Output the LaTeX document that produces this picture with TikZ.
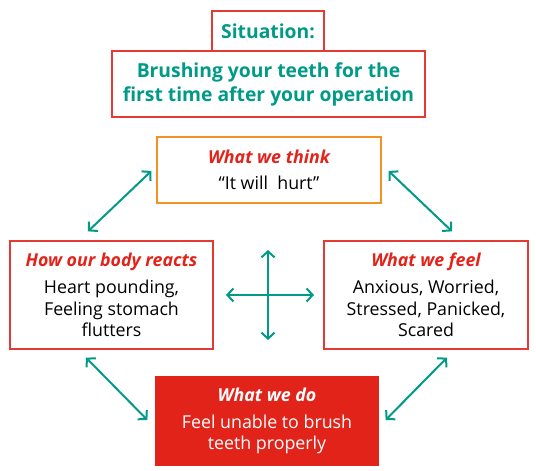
\documentclass[tikz,border=0pt]{standalone}
\usepackage{fontspec}
\setmainfont{Open Sans}
\usetikzlibrary{arrows.meta}
\usetikzlibrary{calc}
\definecolor{boxred}{HTML}{E53A34}
\definecolor{titlered}{HTML}{E2231A}
\definecolor{thinkorange}{HTML}{F39325}
\definecolor{arrowteal}{HTML}{009A87}

\begin{document}
\begin{tikzpicture}
	[x=1pt,y=1pt,
	box/.style={draw=boxred, line width=1.3pt, inner sep=0pt, align=center, font=\fontsize{17.8}{21.5}\selectfont},
	sitbox/.style={box, text=arrowteal, font=\fontsize{19.3}{24}\selectfont\bfseries},
	link/.style={arrowteal, line width=2pt, {Straight Barb[length=6pt,width=13pt]}-{Straight Barb[length=6pt,width=13pt]}}];

	\useasboundingbox (0,0) rectangle (536,471);

	%Situation
	\node[sitbox, minimum width=112, minimum height=40] (sit) at (268,440) {Situation:};
	\node[sitbox, minimum width=313, minimum height=66] (brush) at (268.5,387) {Brushing your teeth for the\\first time after your operation};

	%Four boxes
	\node[box, draw=thinkorange, minimum width=224, minimum height=66] (think) at (269,301) {{\bfseries\itshape\color{titlered}What we think}\\[5pt]“It will~ hurt”};
	\node[box, minimum width=203, minimum height=108] (body) at (111.5,176) {{\bfseries\itshape\color{titlered}How our body reacts}\\[6pt]Heart pounding,\\Feeling stomach\\flutters};
	\node[box, minimum width=204, minimum height=108] (feel) at (426,176) {{\bfseries\itshape\color{titlered}What we feel}\\[6pt]Anxious, Worried,\\Stressed, Panicked,\\Scared};
	\node[box, draw=titlered, fill=titlered, text=white, minimum width=222, minimum height=88] (do) at (267,50) {{\bfseries\itshape What we do}\\[5pt]Feel unable to brush\\teeth properly};

	%Links
	\draw[link] ($(body.north)+(-23.5,9)$) -- ($(think.west)+(-5,-1)$);
	\draw[link] ($(think.east)+(7,-1)$) -- ($(feel.north)+(26,9)$);
	\draw[link] ($(body.south)+(-25.5,-8)$) -- ($(do.west)+(-8,1)$);
	\draw[link] ($(do.east)+(7,1)$) -- ($(feel.south)+(21,-8)$);

	%Cross
	\coordinate (cl) at (226,176);
	\coordinate (cr) at (314,176);
	\coordinate (ct) at (268,221);
	\coordinate (cb) at (268,131);
	\draw[link] (cl) -- (cr);
	\draw[link] (ct) -- (cb);
\end{tikzpicture}
\end{document}
